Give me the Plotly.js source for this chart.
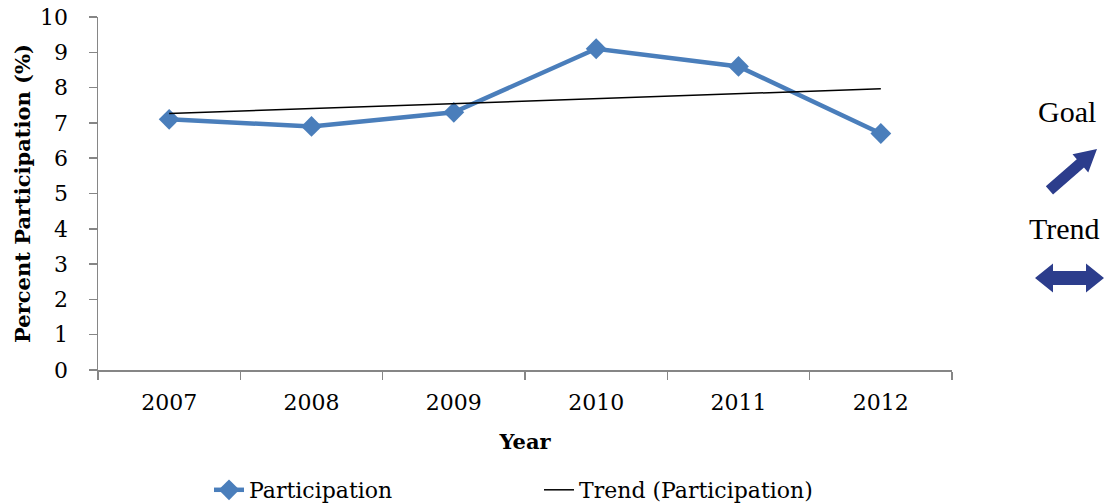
<!DOCTYPE html>
<html>
<head>
<meta charset="utf-8">
<script src="https://cdn.plot.ly/plotly-3.0.1.min.js"></script>
<style>html,body{margin:0;padding:0;background:#fff;}#chart{width:1106px;height:503px;}</style>
</head>
<body>
<div id="chart"></div>
<script>
// ---- data ----
var years = ['2007', '2008', '2009', '2010', '2011', '2012'];
var participation = [7.1, 6.9, 7.3, 9.1, 8.6, 6.7];
var yTicks = [0, 1, 2, 3, 4, 5, 6, 7, 8, 9, 10];
var sideLabels = ['Goal', 'Trend'];

// linear trend (least squares) of the participation series
var n = participation.length;
var idx = participation.map(function (_, i) { return i; });
var mx = idx.reduce(function (a, b) { return a + b; }, 0) / n;
var my = participation.reduce(function (a, b) { return a + b; }, 0) / n;
var sxy = 0, sxx = 0;
for (var i = 0; i < n; i++) { sxy += (idx[i] - mx) * (participation[i] - my); sxx += (idx[i] - mx) * (idx[i] - mx); }
var slope = sxy / sxx, intercept = my - slope * mx;
var trend = idx.map(function (x) { return intercept + slope * x; });

// ---- layout geometry (pixels) ----
var W = 1106, H = 503;
var L = 98, R = 952, T = 17, B = 370;
function px(x) { return (x - L) / (R - L); }
function py(y) { return (B - y) / (B - T); }
function path(pts) {
  return 'M' + pts.map(function (p) { return px(p[0]) + ',' + py(p[1]); }).join(' L') + ' Z';
}

var serif = 'DejaVu Serif, serif';
var arrowColor = '#2c3d8c';

// Goal arrow (diagonal up-right)
var tip = [1097, 149], u = [0.755, -0.656], nn = [0.656, 0.755];
function off(p, a, b) { return [p[0] + a * u[0] + b * nn[0], p[1] + a * u[1] + b * nn[1]]; }
var goalPts = [tip, off(tip, -22, -12), off(tip, -22, -5.5), off(tip, -63, -5.5),
               off(tip, -63, 5.5), off(tip, -22, 5.5), off(tip, -22, 12)];
// Trend double arrow (horizontal)
var cy = 278;
var trendPts = [[1035, cy], [1053, cy - 14.5], [1053, cy - 7], [1086, cy - 7], [1086, cy - 14.5],
                [1104, cy], [1086, cy + 14.5], [1086, cy + 7], [1053, cy + 7], [1053, cy + 14.5]];

var data = [
  {
    x: years, y: participation, name: 'Participation', type: 'scatter', mode: 'lines+markers',
    line: { color: '#4a7ebb', width: 4.5 },
    marker: { symbol: 'diamond', size: 16, color: '#4a7ebb' }
  },
  {
    x: years, y: trend, name: 'Trend (Participation)', type: 'scatter', mode: 'lines',
    line: { color: '#000000', width: 1.5 }
  }
];

var layout = {
  width: W, height: H,
  margin: { l: L, r: W - R, t: T, b: H - B, pad: 0 },
  paper_bgcolor: '#ffffff', plot_bgcolor: '#ffffff',
  font: { family: serif, size: 22, color: '#000000' },
  showlegend: true,
  legend: {
    orientation: 'h', x: px(209), xanchor: 'left',
    yref: 'container', y: (H - 490) / H, yanchor: 'middle',
    font: { family: serif, size: 22, color: '#000' },
    entrywidth: 285, entrywidthmode: 'pixels', itemwidth: 30
  },
  xaxis: {
    type: 'category', range: [-0.5, 5.5], tickson: 'boundaries',
    showgrid: false, zeroline: false, showline: true, linecolor: '#868686', linewidth: 1.5,
    ticks: 'outside', ticklen: 8, tickcolor: '#868686', tickwidth: 1.5,
    ticklabelstandoff: 12,
    tickfont: { family: serif, size: 22, color: '#000' },
    title: { text: '<b>Year</b>', font: { family: serif, size: 21, color: '#000' }, standoff: 20 },
    fixedrange: true
  },
  yaxis: {
    range: [0, 10], tickvals: yTicks, ticktext: yTicks.map(String),
    showgrid: false, zeroline: false, showline: true, linecolor: '#868686', linewidth: 1.5,
    ticks: 'outside', ticklen: 8, tickcolor: '#868686', tickwidth: 1.5,
    ticklabelstandoff: 16,
    tickfont: { family: serif, size: 22, color: '#000' },
    title: { text: '<b>Percent Participation (%)</b>', font: { family: serif, size: 21, color: '#000' }, standoff: 3 },
    fixedrange: true
  },
  shapes: [
    { type: 'path', xref: 'paper', yref: 'paper', path: path(goalPts), fillcolor: arrowColor, line: { width: 0 } },
    { type: 'path', xref: 'paper', yref: 'paper', path: path(trendPts), fillcolor: arrowColor, line: { width: 0 } }
  ],
  annotations: [
    { text: sideLabels[0], xref: 'paper', yref: 'paper', x: px(1067), y: py(112), xanchor: 'center', yanchor: 'middle',
      showarrow: false, font: { family: 'Liberation Serif, serif', size: 30, color: '#000' } },
    { text: sideLabels[1], xref: 'paper', yref: 'paper', x: px(1064), y: py(228), xanchor: 'center', yanchor: 'middle',
      showarrow: false, font: { family: 'Liberation Serif, serif', size: 30, color: '#000' } }
  ]
};

Plotly.newPlot('chart', data, layout, { displayModeBar: false, staticPlot: true });
</script>
</body>
</html>
